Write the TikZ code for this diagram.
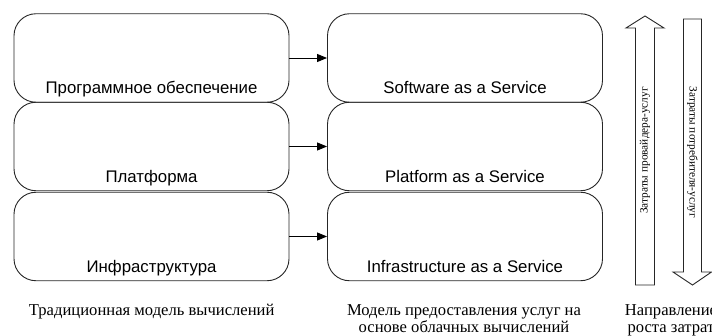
\documentclass[tikz,border=0pt]{standalone}
\usepackage{fontspec}
\setmainfont{Liberation Serif}
\newfontfamily\boxfont{Liberation Sans}
\usetikzlibrary{arrows.meta}
\begin{document}
\begin{tikzpicture}[x=1pt,y=-1pt,
  blk/.style={draw=black!85,line width=0.9pt,rounded corners=22pt,minimum width=275pt,minimum height=88.5pt,inner sep=0pt},
  btxt/.style={font=\boxfont\fontsize{16.8}{19}\selectfont,anchor=base,inner sep=0pt},
  captxt/.style={font=\fontsize{16.6}{17.5}\selectfont,align=center,anchor=north,inner sep=0pt},
  vtxt/.style={font=\fontsize{11.3}{13}\selectfont,inner sep=0pt},
  conn/.style={-{Triangle[length=10pt,width=8pt]},line width=0.9pt},
  barrow/.style={draw=black!85,line width=0.9pt,line join=miter}]
\useasboundingbox (0,0) rectangle (712,336);
% left column
\node[blk] (l1) at (151.5,58) {};
\node[blk] (l2) at (151.5,146.5) {};
\node[blk] (l3) at (151.5,236.5) {};
\node[btxt] (lt1) at (151.5,94) {Программное обеспечение};
\node[btxt] (lt2) at (151.5,183) {Платформа};
\node[btxt] (lt3) at (151.5,272.5) {Инфраструктура};
% right column
\node[blk] (r1) at (465,58) {};
\node[blk] (r2) at (465,146.5) {};
\node[blk] (r3) at (465,236.5) {};
\node[btxt] (rt1) at (465,94) {Software as a Service};
\node[btxt] (rt2) at (465,183) {Platform as a Service};
\node[btxt] (rt3) at (465,272.5) {Infrastructure as a Service};
% connectors
\draw[conn] (l1.east) -- (r1.west);
\draw[conn] (l2.east) -- (r2.west);
\draw[conn] (l3.east) -- (r3.west);
% block arrows
\draw[barrow] (635.5,285) -- (635.5,28) -- (626,28) -- (645,16) -- (664,28) -- (654.5,28) -- (654.5,285) -- cycle;
\draw[barrow] (683.5,19) -- (683.5,272) -- (673,272) -- (692.5,285) -- (711.5,272) -- (701.5,272) -- (701.5,19) -- cycle;
\node[vtxt,rotate=90] (ua) at (645,150.5) {Затраты провайдера-услуг};
\node[vtxt,rotate=-90] (da) at (692.5,152.5) {Затраты потребителя-услуг};
% captions
\node[captxt] (c1) at (151.7,304) {Традиционная модель вычислений};
\node[captxt] (c2) at (464,304) {Модель предоставления услуг на\\основе облачных вычислений};
\node[captxt] (c3) at (671,304) {Направление\\роста затрат};
\end{tikzpicture}
\end{document}
